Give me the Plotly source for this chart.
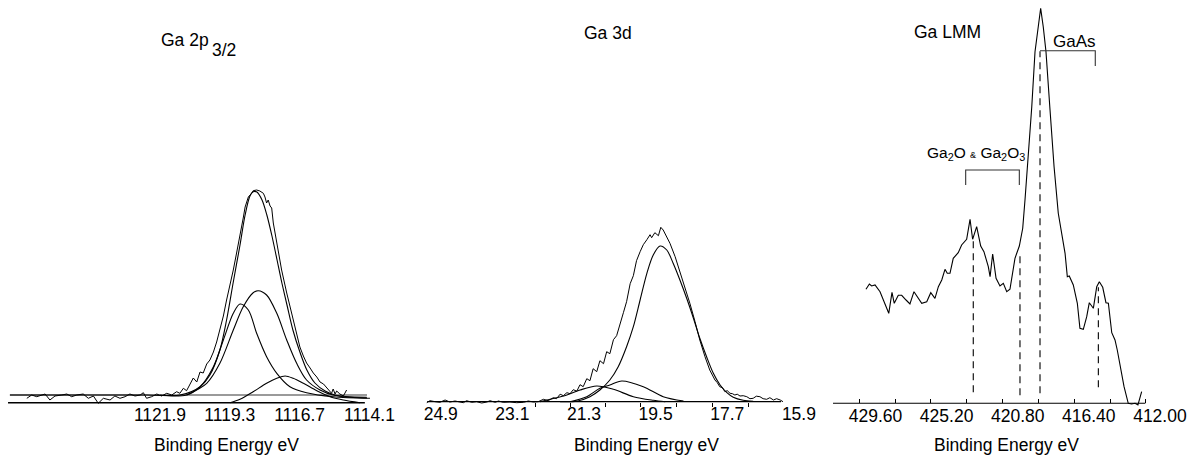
import plotly.graph_objects as go

FONT = "Liberation Sans, Arial, Helvetica, sans-serif"
W, H = 1201, 458

# ---------------- Panel 1 : Ga 2p3/2 ----------------
ga2p_ticks = [1121.9, 1119.3, 1116.7, 1114.1]
ga2p_ticktext = ["1121.9", "1119.3", "1116.7", "1114.1"]

ga2p_raw_e = [1126.86, 1126.68, 1126.49, 1126.18, 1126.00, 1125.81, 1125.56, 1125.37, 1125.19, 1125.00,
              1124.76, 1124.57, 1124.38, 1124.20, 1124.01, 1123.76, 1123.58, 1123.39, 1123.20, 1123.02,
              1122.83, 1122.64, 1122.52, 1122.40, 1122.21, 1122.02, 1121.84, 1121.65, 1121.46, 1121.28,
              1121.16, 1121.03, 1120.91, 1120.78, 1120.66, 1120.53, 1120.41, 1120.29, 1120.16, 1120.04,
              1119.91, 1119.79, 1119.67, 1119.54, 1119.42, 1119.29, 1119.17, 1119.04, 1118.92, 1118.80,
              1118.73, 1118.61, 1118.48, 1118.43, 1118.30, 1118.18, 1118.05, 1117.99, 1117.93, 1117.87,
              1117.80, 1117.74, 1117.68, 1117.55, 1117.43, 1117.37, 1117.18, 1117.06, 1116.94, 1116.81,
              1116.69, 1116.56, 1116.44, 1116.31, 1116.19, 1116.06, 1115.94, 1115.81, 1115.69, 1115.57,
              1115.51, 1115.45, 1115.38, 1115.32, 1115.20, 1115.07, 1114.95]
ga2p_raw_i = [4.4, 7.7, 6.0, 8.7, 2.7, 6.7, 7.7, 8.7, 6.0, 7.7,
              8.7, 4.4, 6.7, -0.6, 4.4, 2.7, 6.7, 4.4, 6.0, 8.7,
              6.7, 7.7, 10.0, 4.4, 6.0, 8.7, 6.7, 9.4, 7.7, 11.0,
              9.4, 14.4, 12.0, 18.0, 24.7, 20.7, 30.7, 29.7, 38.7, 42.7,
              50.7, 60.7, 72.7, 86.7, 102.7, 117.7, 132.7, 150.7, 166.0, 184.7,
              195.7, 205.7, 209.7, 212.0, 212.7, 211.7, 209.4, 205.7, 199.7, 202.7,
              196.7, 194.7, 179.7, 159.7, 142.7, 132.7, 109.7, 96.7, 82.7, 69.7,
              55.7, 46.7, 39.7, 34.7, 29.7, 25.7, 20.7, 18.7, 14.7, 11.7,
              9.4, 13.7, 8.7, 11.7, 8.7, 6.7, 12.7]

ga2p_env_e = [1127.49, 1122.40, 1120.91, 1120.41, 1120.04, 1119.67, 1119.42, 1119.17, 1118.92, 1118.73,
              1118.55, 1118.43, 1118.29, 1118.10, 1117.92, 1117.73, 1117.54, 1117.36, 1117.17, 1116.95,
              1116.69, 1116.43, 1116.13, 1115.75, 1115.38, 1115.01, 1114.19]
ga2p_env_i = [7.7, 7.7, 7.7, 15.7, 27.7, 52.7, 82.7, 120.7, 157.7, 187.7,
              206.7, 211.0, 210.7, 202.7, 187.7, 166.7, 142.7, 119.7, 97.7, 72.7,
              50.7, 32.7, 19.7, 11.7, 7.7, 5.7, 4.7]

ga2p_c1_e = [1121.90, 1121.16, 1120.41, 1119.91, 1119.54, 1119.17, 1118.92, 1118.61, 1118.30, 1117.93,
             1117.55, 1117.06, 1116.44, 1115.45, 1114.08]
ga2p_c1_i = [7.7, 7.7, 16.0, 36.0, 62.7, 89.4, 98.7, 92.7, 69.4, 46.0,
             29.4, 16.0, 10.0, 6.0, 4.4]

ga2p_c2_e = [1120.91, 1120.16, 1119.67, 1119.17, 1118.80, 1118.43, 1118.24, 1117.93, 1117.55, 1117.18,
             1116.81, 1116.44, 1115.94, 1115.45, 1114.20]
ga2p_c2_i = [7.7, 19.4, 39.4, 72.7, 96.0, 110.0, 112.0, 107.7, 89.4, 62.7,
             39.4, 22.7, 12.7, 7.7, 5.4]

ga2p_c3_e = [1119.29, 1118.92, 1118.43, 1117.93, 1117.55, 1117.24, 1116.94, 1116.56, 1116.06, 1115.57,
             1115.07, 1114.45]
ga2p_c3_i = [0.0, 3.4, 11.0, 19.4, 24.4, 26.7, 24.4, 19.4, 12.0, 6.0, 2.7, 0.0]

ga2p_bg_upper_e = [1127.49, 1114.19]
ga2p_bg_upper_i = [7.7, 7.7]
ga2p_bg_lower_e = [1127.56, 1114.27]
ga2p_bg_lower_i = [0.0, 0.0]

# ---------------- Panel 2 : Ga 3d ----------------
ga3d_ticks = [24.9, 23.1, 21.3, 19.5, 17.7, 15.9]
ga3d_ticktext = ["24.9", "23.1", "21.3", "19.5", "17.7", "15.9"]
ga3d_minor = [22.53, 21.63, 20.77, 19.89, 18.98, 18.06, 17.17]
ga3d_axis_e = [25.24, 16.35]

ga3d_raw_e = [25.25, 25.17, 25.04, 24.92, 24.79, 24.67, 24.54, 24.42, 24.33, 24.25,
              24.12, 24.00, 23.87, 23.74, 23.66, 23.53, 23.45, 23.33, 23.16, 22.99,
              22.82, 22.70, 22.57, 22.45, 22.32, 22.20, 22.07, 21.99, 21.90, 21.82,
              21.73, 21.65, 21.57, 21.48, 21.40, 21.32, 21.23, 21.15, 21.07, 20.98,
              20.90, 20.81, 20.73, 20.65, 20.56, 20.48, 20.40, 20.31, 20.23, 20.14,
              20.06, 19.98, 19.89, 19.81, 19.72, 19.64, 19.60, 19.52, 19.43, 19.37,
              19.31, 19.22, 19.14, 19.01, 18.89, 18.76, 18.64, 18.51, 18.39, 18.26,
              18.14, 18.01, 17.95, 17.89, 17.82, 17.76, 17.70, 17.63, 17.57, 17.51,
              17.45, 17.38, 17.30, 17.21, 17.13, 17.05, 16.97, 16.88, 16.80, 16.71,
              16.63, 16.54, 16.46, 16.37, 16.30]
ga3d_raw_i = [-1.0, 1.0, 0.0, -0.6, 1.7, -0.3, 0.7, 0.0, -1.0, 1.0,
              -0.6, 0.0, -1.3, -0.3, 1.0, -0.6, 0.7, -0.6, -0.3, -1.0,
              -0.6, 0.7, -0.3, 0.0, 2.4, 1.0, 4.0, 3.0, 7.5, 6.0,
              9.0, 8.0, 12.0, 10.5, 17.0, 15.0, 23.0, 21.0, 33.0, 30.0,
              41.0, 38.0, 50.0, 48.0, 62.0, 66.0, 76.0, 89.0, 100.0, 118.0,
              126.0, 141.0, 150.0, 157.0, 162.0, 167.0, 164.0, 169.0, 166.0, 174.4,
              171.7, 165.0, 158.4, 145.0, 130.0, 115.0, 98.4, 80.0, 61.7, 45.0,
              31.7, 21.7, 19.0, 15.0, 14.0, 10.0, 11.0, 8.4, 8.0, 6.7,
              7.5, 5.7, 6.0, 5.0, 3.0, 3.4, 5.5, 5.0, 3.0, 2.4,
              4.0, 1.7, 3.0, 1.7, 0.0]

ga3d_main_e = [21.90, 21.48, 21.15, 20.90, 20.65, 20.44, 20.23, 20.06, 19.89, 19.72,
               19.56, 19.39, 19.22, 19.06, 18.89, 18.72, 18.55, 18.39, 18.22, 18.05,
               17.88, 17.71, 17.55, 17.30, 17.05]
ga3d_main_i = [0.0, 0.5, 5.0, 11.7, 21.7, 35.0, 55.0, 75.0, 101.7, 128.4,
               146.7, 155.7, 151.7, 138.4, 121.7, 103.4, 83.4, 63.4, 45.0, 28.4,
               16.7, 9.0, 4.4, 1.4, 0.4]

ga3d_ca_e = [22.41, 22.15, 21.73, 21.40, 20.98, 20.56, 20.06, 19.56, 19.26]
ga3d_ca_i = [0.0, 2.4, 6.7, 11.7, 15.7, 12.4, 5.0, 1.4, 0.0]

ga3d_cb_e = [21.65, 21.23, 20.90, 20.65, 20.35, 19.81, 19.31, 18.80]
ga3d_cb_i = [0.0, 5.0, 13.4, 16.7, 20.7, 15.0, 5.0, 0.7]

# ---------------- Panel 3 : Ga LMM ----------------
lmm_ticks = [429.60, 425.20, 420.80, 416.40, 412.00]
lmm_ticktext = ["429.60", "425.20", "420.80", "416.40", "412.00"]
lmm_minor = [430.62, 428.39, 426.17, 423.94, 421.77, 419.54, 417.31, 415.08, 412.91]
lmm_axis_e = [432.23, 412.90]

lmm_e = [430.19, 429.98, 429.84, 429.63, 429.32, 429.01, 428.78, 428.58, 428.44, 428.19,
         427.98, 427.71, 427.47, 427.22, 427.01, 426.74, 426.43, 426.18, 425.92, 425.71,
         425.50, 425.30, 425.16, 424.99, 424.79, 424.48, 424.27, 423.96, 423.75, 423.59,
         423.34, 423.09, 422.89, 422.62, 422.51, 422.35, 422.14, 421.90, 421.69, 421.48,
         421.28, 420.97, 420.70, 420.49, 420.35, 420.14, 419.93, 419.73, 419.59, 419.38,
         419.22, 419.05, 418.80, 418.55, 418.29, 418.08, 417.87, 417.73, 417.61, 417.36,
         417.11, 416.95, 416.74, 416.53, 416.37, 416.12, 415.91, 415.75, 415.54, 415.34,
         415.19, 414.98, 414.78, 414.64, 414.43, 414.22, 413.96, 413.75, 413.54, 413.36,
         413.13]
lmm_i = [114.0, 119.3, 117.3, 118.3, 111.6, 100.0, 90.0, 111.0, 100.0, 108.0,
         108.0, 103.3, 99.3, 111.6, 106.6, 100.0, 101.6, 110.6, 105.0, 116.6,
         123.3, 134.0, 130.0, 130.0, 145.0, 150.6, 158.3, 164.0, 184.0, 164.0,
         176.6, 157.3, 151.6, 136.6, 126.6, 149.3, 125.0, 117.3, 120.0, 111.6,
         114.0, 145.0, 157.3, 175.0, 203.3, 246.6, 296.6, 351.6, 370.0, 395.0,
         376.6, 351.6, 293.3, 236.6, 190.0, 170.0, 150.0, 126.6, 127.3, 118.3,
         100.0, 75.0, 74.0, 86.6, 100.6, 95.0, 116.6, 121.6, 116.0, 100.6,
         100.0, 70.6, 63.3, 53.3, 33.3, 16.6, 0.0, -0.7, 0.0, -1.7,
         11.6]

lmm_marker_e = [423.55, 420.66, 419.42, 415.81]
lmm_marker_top = [165.0, 150.0, 352.0, 116.0]
lmm_marker_bottom = [11.0, 8.0, 10.0, 16.0]

gaas_bracket_e = [419.42, 416.00, 416.00]
gaas_bracket_i = [352.6, 352.6, 337.3]
oxide_bracket_e = [424.02, 424.02, 420.70, 420.70]
oxide_bracket_i = [218.3, 233.3, 233.3, 218.3]

# ---------------- figure ----------------
fig = go.Figure()


def add_line(x, y, xa, ya, shape="linear", color="black", width=1.1, dash="solid"):
    fig.add_trace(go.Scatter(
        x=x, y=y, mode="lines", xaxis=xa, yaxis=ya, showlegend=False, hoverinfo="skip",
        line=dict(color=color, width=width, shape=shape, dash=dash,
                  smoothing=0.9 if shape == "spline" else None)))


# panel 1
add_line(ga2p_bg_upper_e, ga2p_bg_upper_i, "x", "y", color="#9a9a9a", width=2)
add_line(ga2p_bg_lower_e, ga2p_bg_lower_i, "x", "y", width=1.4)
add_line(ga2p_c3_e, ga2p_c3_i, "x", "y", shape="spline")
add_line(ga2p_c1_e, ga2p_c1_i, "x", "y", shape="spline")
add_line(ga2p_c2_e, ga2p_c2_i, "x", "y", shape="spline")
add_line(ga2p_env_e, ga2p_env_i, "x", "y", shape="spline")
add_line(ga2p_raw_e, ga2p_raw_i, "x", "y", width=1.0)

# panel 2
add_line(ga3d_axis_e, [0, 0], "x2", "y2", width=1.3)
add_line(ga3d_ca_e, ga3d_ca_i, "x2", "y2", shape="spline")
add_line(ga3d_cb_e, ga3d_cb_i, "x2", "y2", shape="spline")
add_line(ga3d_main_e, ga3d_main_i, "x2", "y2", shape="spline")
add_line(ga3d_raw_e, ga3d_raw_i, "x2", "y2", width=1.0)

# panel 3
add_line(lmm_axis_e, [0, 0], "x3", "y3", width=1.1)
add_line(lmm_e, lmm_i, "x3", "y3", width=1.1)
for e, top, bot in zip(lmm_marker_e, lmm_marker_top, lmm_marker_bottom):
    add_line([e, e], [bot, top], "x3", "y3", width=1.1, dash="7px,5px")
add_line(gaas_bracket_e, gaas_bracket_i, "x3", "y3", color="#333", width=1.1)
add_line(oxide_bracket_e, oxide_bracket_i, "x3", "y3", color="#333", width=1.1)


def xaxis(dom_px, rng, base_px, tickvals, ticktext, minor_vals=None, minor_dir="outside"):
    ax = dict(domain=[dom_px[0] / W, dom_px[1] / W], range=rng, anchor="free",
              position=(H - base_px) / H, tickmode="array", tickvals=tickvals, ticktext=ticktext,
              ticks="", showline=False, showgrid=False, zeroline=False,
              tickfont=dict(family=FONT, size=17.5, color="black"))
    if minor_vals:
        ax["minor"] = dict(tickmode="array", tickvals=minor_vals, ticks=minor_dir, ticklen=4,
                           tickwidth=1, tickcolor="black", showgrid=False)
    return ax


def yaxis(base_px, anchor):
    return dict(domain=[0, 1], range=[-(H - base_px), base_px], visible=False,
                showgrid=False, zeroline=False, anchor=anchor)


fig.update_layout(
    width=W, height=H, margin=dict(l=0, r=0, t=0, b=0),
    paper_bgcolor="white", plot_bgcolor="rgba(0,0,0,0)",
    font=dict(family=FONT, color="black"),
    xaxis=xaxis((0, 400), [1127.859, 1112.961], 402.7, ga2p_ticks, ga2p_ticktext),
    yaxis=yaxis(402.7, "x"),
    xaxis2=xaxis((415, 830), [25.546, 15.119], 401.7, ga3d_ticks, ga3d_ticktext, ga3d_minor, "outside"),
    yaxis2=yaxis(401.7, "x2"),
    xaxis3=xaxis((830, 1201), [432.416, 409.458], 403.3, lmm_ticks, lmm_ticktext, lmm_minor, "inside"),
    yaxis3=yaxis(403.3, "x3"),
)


def paper_text(text, cx, cy, size=17.5):
    fig.add_annotation(text=text, x=cx / W, y=1 - cy / H, xref="paper", yref="paper",
                       xanchor="center", yanchor="middle", showarrow=False,
                       font=dict(family=FONT, size=size, color="black"))


paper_text("Ga 2p", 185, 40)
paper_text("3/2", 224.2, 49.7)
paper_text("Ga 3d", 608, 33.3)
paper_text("Ga LMM", 947.5, 31.7)
for cx in (226.7, 646, 1006):
    paper_text("Binding Energy eV", cx, 444.5)

fig.add_annotation(text="GaAs", x=417.31, y=362, xref="x3", yref="y3", xanchor="center",
                   yanchor="middle", showarrow=False, font=dict(family=FONT, size=17, color="black"))
fig.add_annotation(text="Ga<sub>2</sub>O <span style='font-size:9px'>&amp;</span> Ga<sub>2</sub>O<sub>3</sub>",
                   x=423.38, y=250.3, xref="x3", yref="y3", xanchor="center", yanchor="middle",
                   showarrow=False, font=dict(family=FONT, size=15.5, color="black"))

fig.write_html("out.html", config={"displayModeBar": False},
               post_script="document.body.style.margin='0';document.body.style.overflow='hidden';")
